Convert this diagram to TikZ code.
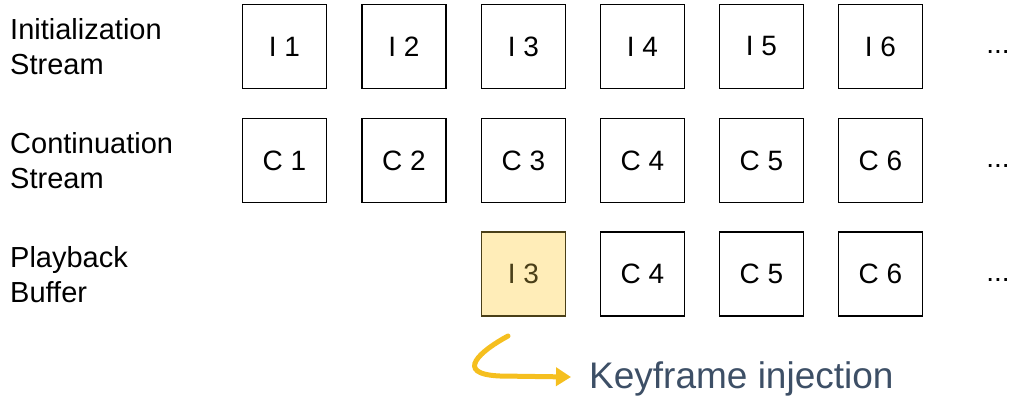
\documentclass[tikz,border=0pt]{standalone}
\usepackage{fontspec}
\setmainfont{Liberation Sans}
\usetikzlibrary{arrows.meta}
\definecolor{kfblue}{HTML}{3D4F66}
\definecolor{kfgold}{HTML}{F5BF1F}
\definecolor{boxyellow}{HTML}{FFEDB8}
\definecolor{boxedge}{HTML}{4A3F18}
\definecolor{ytext}{HTML}{4A3F18}
\begin{document}
\begin{tikzpicture}[x=1pt,y=-1pt,
  frame/.style={draw=black,line width=1.5pt,minimum width=84pt,minimum height=84pt,inner sep=0pt,font=\fontsize{28}{32}\selectfont},
  hilite/.style={frame,fill=boxyellow,draw=boxedge,text=ytext},
  rowlabel/.style={anchor=west,align=left,inner sep=0pt,font=\fontsize{29}{35}\selectfont},
  more/.style={inner sep=0pt,font=\fontsize{28}{32}\selectfont}]
\useasboundingbox (0,0) rectangle (1013,402);
% row labels
\node[rowlabel] (l1) at (10,47) {Initialization\\Stream};
\node[rowlabel] (l2) at (10,161) {Continuation\\Stream};
\node[rowlabel] (l3) at (10,275) {Playback\\Buffer};
% row 1
\node[frame] (i1) at (284.5,46.5) {I 1};
\node[frame] (i2) at (404,46.5) {I 2};
\node[frame] (i3) at (523.5,46.5) {I 3};
\node[frame] (i4) at (642.5,46.5) {I 4};
\node[frame] (i5) at (761.5,46.5) {I 5};
\node[frame] (i6) at (880.5,46.5) {I 6};
\node[more] (d1) at (998,52) {...};
% row 2
\node[frame] (c1) at (284.5,160.5) {C 1};
\node[frame] (c2) at (404,160.5) {C 2};
\node[frame] (c3) at (523.5,160.5) {C 3};
\node[frame] (c4) at (642.5,160.5) {C 4};
\node[frame] (c5) at (761.5,160.5) {C 5};
\node[frame] (c6) at (880.5,160.5) {C 6};
\node[more] (d2) at (998,166) {...};
% row 3
\node[hilite] (p3) at (523.5,274) {I 3};
\node[frame] (p4) at (642.5,274) {C 4};
\node[frame] (p5) at (761.5,274) {C 5};
\node[frame] (p6) at (880.5,274) {C 6};
\node[more] (d3) at (998,280) {...};
% keyframe injection
\node[anchor=west,inner sep=0pt,text=kfblue,font=\fontsize{37}{40}\selectfont] (kf) at (589,379) {Keyframe injection};
\coordinate (as) at (508,336);
\coordinate (ae) at (571,377);
\draw[kfgold,line width=5pt,line cap=round,-{Triangle[length=15pt,width=18pt]}]
  (as) .. controls (482,350) and (452,374) .. (500,376) -- (ae);
\end{tikzpicture}
\end{document}
